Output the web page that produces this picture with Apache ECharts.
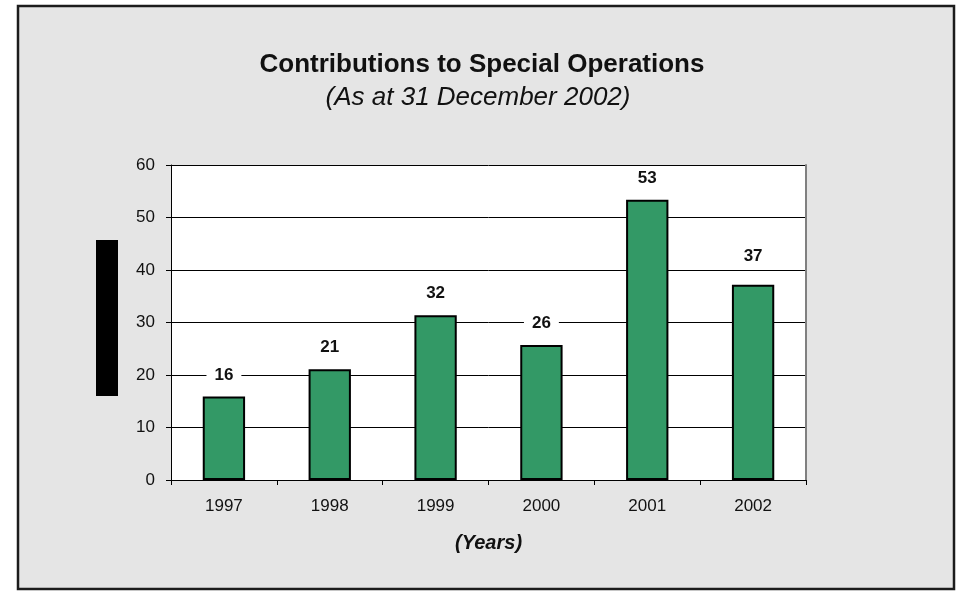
<!DOCTYPE html>
<html><head><meta charset="utf-8">
<script src="https://cdn.jsdelivr.net/npm/echarts@6/dist/echarts.min.js"></script>
<style>html,body{margin:0;padding:0;background:#fff}#c{width:960px;height:591px}</style>
</head><body><div id="c"></div>
<script>
const years = ['1997','1998','1999','2000','2001','2002'];
const contributions = [15.9, 21.1, 31.4, 25.7, 53.4, 37.2];
const valueLabels = ['16','21','32','26','53','37'];
const yTicks = [0, 10, 20, 30, 40, 50, 60];

const chart = echarts.init(document.getElementById('c'));
const FF = '"Liberation Sans", Arial, sans-serif';
chart.setOption({
  animation: false,
  backgroundColor: '#ffffff',
  graphic: [
    {type:'rect', z:-10, shape:{x:18, y:6, width:936, height:583}, style:{fill:'#e5e5e5', stroke:'#1c1c1c', lineWidth:2.5}},
    {type:'rect', z:5, shape:{x:96, y:240, width:22, height:156}, style:{fill:'#000'}}
  ],
  title: [
    {text:'Contributions to Special Operations', left:477, top:47, textAlign:'center',
     textStyle:{fontFamily:FF, fontSize:26, fontWeight:'bold', color:'#111'}},
    {text:'(As at 31 December 2002)', left:473, top:80, textAlign:'center',
     textStyle:{fontFamily:FF, fontSize:26, fontStyle:'italic', fontWeight:'normal', color:'#111'}}
  ],
  grid: {left:171, right:154, top:165, bottom:111, show:true, backgroundColor:'#fff', borderWidth:0},
  xAxis: {
    type:'category', data: years,
    name:'(Years)', nameLocation:'middle', nameGap:53,
    nameTextStyle:{fontFamily:FF, fontSize:20, fontWeight:'bold', fontStyle:'italic', color:'#111'},
    axisLine:{lineStyle:{color:'#000', width:1}},
    axisTick:{show:true, length:5, lineStyle:{color:'#000'}},
    axisLabel:{fontFamily:FF, fontSize:17, color:'#111', margin:18}
  },
  yAxis: [{
    type:'value', min:0, max:60, interval:10,
    axisLine:{show:true, lineStyle:{color:'#000', width:1}},
    axisTick:{show:true, length:5, lineStyle:{color:'#000'}},
    axisLabel:{fontFamily:FF, fontSize:17, color:'#111', margin:16,
      formatter: v => yTicks.includes(v) ? String(v) : ''},
    splitLine:{show:true, lineStyle:{color:'#000', width:1}}
  },{
    type:'value', min:0, max:60, interval:10, position:'right',
    axisLine:{show:true, lineStyle:{color:'#808080', width:2}},
    axisTick:{show:false}, axisLabel:{show:false}, splitLine:{show:false}
  }],
  series: [{
    type:'bar', barWidth:'40%',
    data: contributions.map((v,i)=>({value:v, label:{formatter: valueLabels[i], offset: i===5?[0,-7]:[0,0]}})),
    itemStyle:{color:'#339966', borderColor:'#000', borderWidth:2},
    label:{show:true, position:'top', distance:10, fontFamily:FF, fontSize:17, fontWeight:'bold',
      color:'#111', backgroundColor:'#fff', padding:[3,8,3,8]}
  }]
});
</script></body></html>
